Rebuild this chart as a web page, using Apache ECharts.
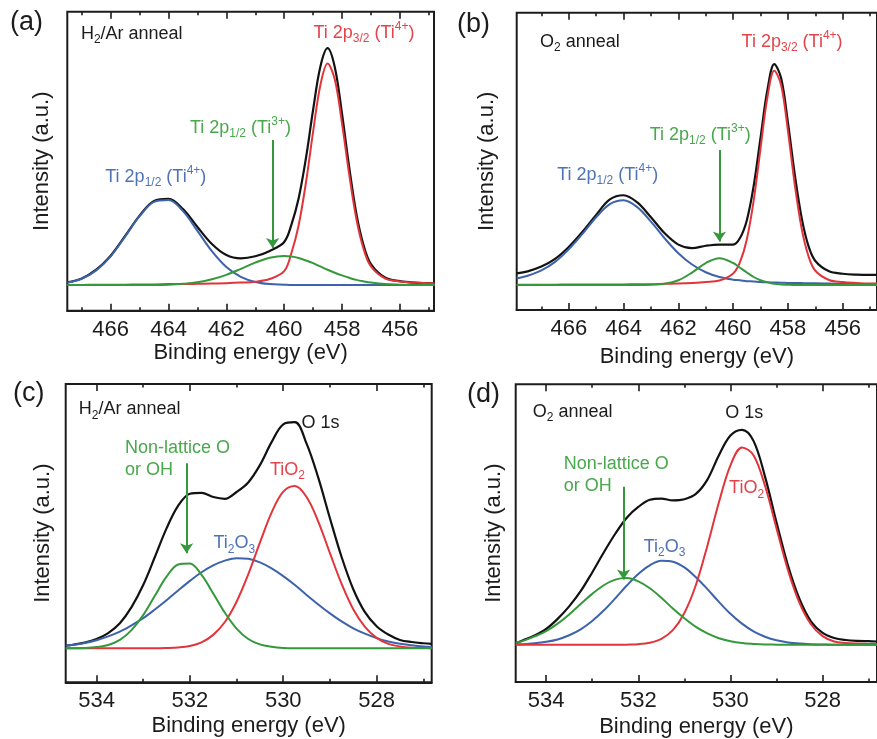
<!DOCTYPE html>
<html>
<head>
<meta charset="utf-8">
<script src="https://cdn.jsdelivr.net/npm/echarts@6/dist/echarts.min.js"></script>
<style>
  html, body { margin: 0; padding: 0; background: #ffffff; }
  #chart { width: 877px; height: 739px; }
</style>
</head>
<body>
<div id="chart"></div>
<script>
// ---------- Ti 2p spectra (binding energy in eV, intensity in arbitrary units) ----------
const tiEnergyA = [467.5, 467, 466.5, 466, 465.5, 465, 464.5, 464, 463.5, 463, 462.5, 462, 461.5, 461, 460.5, 460,
  459.75, 459.5, 459.25, 459, 458.75, 458.5, 458.25, 458, 457.75, 457.5, 457.25, 457, 456.5, 456, 455.5, 455, 454.8];
const tiTotalA = [9.5, 10.8, 13.7, 18.4, 25.0, 31.8, 36.7, 37.4, 34.0, 28.0, 22.3, 18.6, 17.5, 18.2, 20.0, 23.0,
  28.8, 37.6, 50.9, 67.2, 81.6, 87.8, 81.4, 65.8, 47.8, 32.2, 21.7, 15.6, 11.0, 9.9, 9.4, 9.2, 9.1];
const ti4Half1A = [9.4, 10.7, 13.5, 18.2, 24.8, 31.6, 36.4, 37.0, 33.3, 26.7, 19.9, 14.6, 11.3, 9.6, 8.9, 8.7,
  8.6, 8.6, 8.6, 8.6, 8.6, 8.6, 8.6, 8.6, 8.6, 8.6, 8.6, 8.6, 8.6, 8.6, 8.6, 8.6, 8.6];
const ti3Half1A = [8.6, 8.6, 8.6, 8.6, 8.6, 8.6, 8.6, 8.7, 9.0, 9.5, 10.5, 12.0, 14.0, 16.1, 17.7, 18.3,
  18.1, 17.6, 16.8, 15.9, 14.8, 13.7, 12.7, 11.8, 11.0, 10.3, 9.8, 9.4, 8.9, 8.7, 8.6, 8.6, 8.6];
const ti4Half3A = [8.6, 8.6, 8.7, 8.7, 8.7, 8.8, 8.8, 8.9, 8.9, 9.0, 9.1, 9.2, 9.4, 9.7, 10.6, 13.2,
  19.3, 28.6, 42.7, 59.9, 75.4, 82.7, 77.3, 62.6, 45.4, 30.5, 20.5, 14.8, 10.7, 9.8, 9.4, 9.2, 9.1];

const tiEnergyB = [467.9, 467.5, 467, 466.5, 466, 465.5, 465, 464.5, 464, 463.5, 463, 462.5, 462, 461.5, 461, 460.5, 460,
  459.75, 459.5, 459.25, 459, 458.75, 458.5, 458.25, 458, 457.75, 457.5, 457.25, 457, 456.5, 456, 455.5, 455, 454.75];
const tiTotalB = [12.3, 13.0, 14.6, 17.2, 21.2, 26.3, 32.0, 37.2, 38.6, 36.2, 31.2, 25.8, 22.0, 20.8, 21.6, 22.0, 22.0,
  24.2, 30.2, 41.8, 58.0, 74.0, 82.7, 78.0, 63.0, 45.5, 31.0, 21.5, 16.5, 13.0, 12.2, 11.9, 11.8, 11.8];
const ti4Half1B = [10.6, 11.5, 13.3, 16.2, 20.4, 25.6, 31.2, 35.6, 36.9, 34.6, 29.7, 24.1, 19.1, 15.3, 12.7, 11.1, 10.2,
  10.0, 9.7, 9.6, 9.4, 9.3, 9.25, 9.2, 9.1, 9.1, 9.05, 9.0, 9.0, 8.9, 8.8, 8.8, 8.7, 8.7];
const ti3Half1B = [8.4, 8.4, 8.4, 8.4, 8.4, 8.4, 8.4, 8.4, 8.4, 8.4, 8.5, 8.8, 10.0, 12.6, 15.8, 17.4, 15.8,
  14.2, 12.6, 11.1, 10.0, 9.3, 8.8, 8.6, 8.5, 8.4, 8.4, 8.4, 8.4, 8.4, 8.4, 8.4, 8.4, 8.4];
const ti4Half3B = [8.5, 8.5, 8.5, 8.5, 8.6, 8.6, 8.6, 8.6, 8.6, 8.7, 8.7, 8.8, 8.9, 9.1, 9.4, 9.9, 12.3,
  16.1, 23.8, 36.9, 54.4, 71.5, 80.5, 75.7, 60.2, 42.1, 27.4, 18.1, 13.2, 10.1, 9.4, 9.1, 8.9, 8.9];

// ---------- O 1s spectra ----------
const oEnergy = [534.66, 534.5, 534.25, 534, 533.75, 533.5, 533.25, 533, 532.75, 532.5, 532.25, 532, 531.75, 531.5,
  531.25, 531, 530.75, 530.5, 530.25, 530, 529.75, 529.5, 529.25, 529, 528.75, 528.5, 528.25, 528, 527.75, 527.5,
  527.25, 527, 526.82];

const oTotalC = [12.3, 12.6, 13.3, 14.5, 16.5, 19.8, 25.2, 32.6, 42.0, 51.6, 59.2, 63.2, 63.5, 62.1,
  61.5, 63.8, 67.0, 72.8, 80.5, 86.5, 87.2, 80.0, 68.6, 55.0, 42.0, 31.2, 23.5, 18.8, 16.0, 14.2,
  13.5, 13.1, 12.9];
const oHydroxylC = [11.4, 11.4, 11.5, 11.8, 12.5, 14.2, 17.5, 22.5, 29.0, 35.4, 39.5, 39.8, 36.0, 29.8,
  23.3, 18.0, 14.5, 12.7, 11.9, 11.5, 11.4, 11.4, 11.4, 11.4, 11.4, 11.4, 11.4, 11.4, 11.4, 11.4,
  11.4, 11.4, 11.4];
const oTi2O3C = [12.3, 12.6, 13.2, 14.1, 15.4, 17.0, 19.1, 21.5, 24.4, 27.5, 30.8, 34.0, 36.9, 39.2,
  40.8, 41.6, 41.4, 40.2, 38.2, 35.6, 32.6, 29.3, 26.1, 23.1, 20.4, 18.1, 16.3, 14.8, 13.7, 12.9,
  12.4, 12.0, 11.8];
const oTiO2C = [11.4, 11.4, 11.4, 11.4, 11.4, 11.4, 11.4, 11.4, 11.4, 11.5, 11.7, 12.2, 13.4, 15.9,
  20.2, 27.0, 36.2, 46.8, 56.9, 63.9, 65.8, 62.1, 53.9, 43.3, 33.0, 24.5, 18.6, 14.9, 12.9, 12.0,
  11.6, 11.5, 11.45];

const oTotalD = [13.0, 14.0, 15.6, 17.8, 21.2, 25.4, 30.5, 36.8, 43.5, 49.8, 55.2, 58.8, 61.2, 61.6,
  61.0, 61.4, 63.2, 68.0, 76.2, 82.8, 84.7, 81.0, 69.0, 53.6, 39.0, 27.8, 20.3, 16.5, 14.8, 14.1,
  13.8, 13.7, 13.6];
const oHydroxylD = [13.2, 13.8, 15.3, 17.1, 19.6, 22.7, 26.2, 29.6, 32.5, 34.4, 34.9, 33.8, 31.5, 28.3,
  24.7, 21.4, 18.5, 16.3, 14.7, 13.7, 13.1, 12.8, 12.6, 12.55, 12.5, 12.5, 12.5, 12.5, 12.5, 12.5,
  12.5, 12.5, 12.5];
const oTi2O3D = [12.65, 12.7, 13.0, 13.5, 14.3, 15.7, 17.7, 20.5, 24.0, 28.1, 32.4, 36.3, 39.2, 40.7,
  40.4, 38.5, 35.2, 31.2, 26.9, 22.9, 19.6, 17.0, 15.2, 14.0, 13.3, 12.9, 12.7, 12.6, 12.5, 12.5,
  12.5, 12.5, 12.5];
const oTiO2D = [12.5, 12.5, 12.5, 12.5, 12.5, 12.5, 12.5, 12.5, 12.5, 12.5, 12.55, 12.7, 13.2, 14.5,
  17.4, 23.2, 32.6, 45.8, 60.4, 72.8, 78.8, 76.2, 65.9, 51.6, 37.5, 26.5, 19.3, 15.4, 13.6, 13.1,
  12.9, 12.8, 12.8];

// ---------- axis ticks ----------
const tiMajorTicks = [466, 464, 462, 460, 458, 456];
const tiMinorTicks = [467, 465, 463, 461, 459, 457, 455];
const oMajorTicks = [534, 532, 530, 528];
const oMinorTicks = [533, 531, 529, 527];

// ---------- styling ----------
const FONT = '"Liberation Sans", Arial, Helvetica, sans-serif';
const INK = '#1c1c1c';
const LINE = { total: '#121212', blue: '#3d63ac', green: '#35983b', red: '#e2353b' };
const LABEL = { blue: '#4f73b8', green: '#48a84b', red: '#e2444a' };

function rich(color, lh) {
  return {
    m: { fontSize: 18, fontFamily: FONT, color: color, lineHeight: lh || 24 },
    s: { fontSize: 12, fontFamily: FONT, color: color, lineHeight: 12, verticalAlign: 'bottom' },
    p: { fontSize: 12, fontFamily: FONT, color: color, lineHeight: 12, verticalAlign: 'top' }
  };
}

function note(coord, text, color, align, lh) {
  return {
    coord: coord,
    symbol: 'circle',
    symbolSize: 1,
    itemStyle: { color: 'rgba(0,0,0,0)' },
    label: {
      show: true, position: 'inside', align: align || 'center', verticalAlign: 'middle',
      formatter: text, rich: rich(color, lh)
    }
  };
}

const TI_4_32 = '{m|Ti 2p}{s|3/2}{m| (Ti}{p|4+}{m|)}';
const TI_3_12 = '{m|Ti 2p}{s|1/2}{m| (Ti}{p|3+}{m|)}';
const TI_4_12 = '{m|Ti 2p}{s|1/2}{m| (Ti}{p|4+}{m|)}';
const H2AR = '{m|H}{s|2}{m|/Ar anneal}';
const O2 = '{m|O}{s|2}{m| anneal}';

const panels = [
  {
    letter: '(a)', letterPos: [10, 9.5],
    grid: { left: 67.3, top: 11.7, width: 366.7, height: 299 },
    min: 454.82, max: 467.5, major: tiMajorTicks, minor: tiMinorTicks, gapX: 31, gapY: 14,
    x: tiEnergyA, total: tiTotalA, blue: ti4Half1A, green: ti3Half1A, red: ti4Half3A,
    notes: [
      note([467.03, 92.5], H2AR, INK, 'left'),
      note([457.24, 92.9], TI_4_32, LABEL.red),
      note([461.51, 61.1], TI_3_12, LABEL.green),
      note([464.44, 44.7], TI_4_12, LABEL.blue)
    ],
    arrow: [[460.4, 57.1], [460.4, 21.0]]
  },
  {
    letter: '(b)', letterPos: [457, 11.5],
    grid: { left: 516.7, top: 12.7, width: 361.7, height: 297.3 },
    min: 454.75, max: 467.9, major: tiMajorTicks, minor: tiMinorTicks, gapX: 36, gapY: 18.5,
    x: tiEnergyB, total: tiTotalB, blue: ti4Half1B, green: ti3Half1B, red: ti4Half3B,
    notes: [
      note([467.05, 90.2], O2, INK, 'left'),
      note([457.85, 90.2], TI_4_32, LABEL.red),
      note([461.2, 58.9], TI_3_12, LABEL.green),
      note([464.58, 45.4], TI_4_12, LABEL.blue)
    ],
    arrow: [[460.5, 53.8], [460.5, 23.0]]
  },
  {
    letter: '(c)', letterPos: [13, 380],
    grid: { left: 65.7, top: 384, width: 366, height: 298.3 },
    min: 526.82, max: 534.66, major: oMajorTicks, minor: oMinorTicks, gapX: 33, gapY: 12,
    x: oEnergy, total: oTotalC, blue: oTi2O3C, green: oHydroxylC, red: oTiO2C,
    notes: [
      note([534.38, 91.5], H2AR, INK, 'left'),
      note([529.61, 86.8], '{m|O 1s}', INK, 'left'),
      note([533.39, 74.8], '{m|Non-lattice O}\n{m|or OH}', LABEL.green, 'left', 22),
      note([529.91, 71.2], '{m|TiO}{s|2}', LABEL.red),
      note([531.05, 46.6], '{m|Ti}{s|2}{m|O}{s|3}', LABEL.blue)
    ],
    arrow: [[532.07, 73.4], [532.07, 43.3]]
  },
  {
    letter: '(d)', letterPos: [467, 381.5],
    grid: { left: 515.7, top: 384.3, width: 367.8, height: 298 },
    min: 526.82, max: 534.66, major: oMajorTicks, minor: oMinorTicks, gapX: 34, gapY: 11,
    x: oEnergy, total: oTotalD, blue: oTi2O3D, green: oHydroxylD, red: oTiO2D,
    notes: [
      note([534.29, 90.8], O2, INK, 'left'),
      note([529.70, 90.3], '{m|O 1s}', INK),
      note([533.62, 69.4], '{m|Non-lattice O}\n{m|or OH}', LABEL.green, 'left', 22),
      note([529.65, 65.1], '{m|TiO}{s|2}', LABEL.red),
      note([531.43, 45.5], '{m|Ti}{s|2}{m|O}{s|3}', LABEL.blue)
    ],
    arrow: [[532.32, 65.6], [532.32, 34.4]]
  }
];

function pairs(xs, ys) {
  return xs.map(function (x, i) { return [x, ys[i]]; });
}

const option = {
  animation: false,
  backgroundColor: '#ffffff',
  textStyle: { fontFamily: FONT },
  grid: [], xAxis: [], yAxis: [], series: [], graphic: []
};

panels.forEach(function (p, gi) {
  option.grid.push(Object.assign({
    show: true, borderColor: INK, borderWidth: 2, backgroundColor: 'transparent', containLabel: false
  }, p.grid));

  const base = {
    type: 'value', gridIndex: gi, min: p.min, max: p.max, inverse: true,
    splitLine: { show: false }, axisPointer: { show: false }
  };
  const tickStyle = { color: INK, width: 1.6 };
  option.xAxis.push(
    Object.assign({}, base, {
      position: 'bottom',
      name: 'Binding energy (eV)', nameLocation: 'middle', nameGap: p.gapX,
      nameTextStyle: { fontSize: 22, fontFamily: FONT, color: INK },
      axisLine: { show: true, onZero: false, lineStyle: { color: INK, width: 2 } },
      axisTick: { show: true, inside: true, length: 7, customValues: p.major, lineStyle: tickStyle },
      axisLabel: { show: true, customValues: p.major, margin: 8, fontSize: 22, fontFamily: FONT, color: INK }
    }),
    Object.assign({}, base, {
      position: 'bottom',
      axisLine: { show: false, onZero: false },
      axisTick: { show: true, inside: true, length: 3.5, customValues: p.minor, lineStyle: tickStyle },
      axisLabel: { show: false }
    }),
    Object.assign({}, base, {
      position: 'top',
      axisLine: { show: false, onZero: false },
      axisTick: { show: true, inside: true, length: 7, customValues: p.major, lineStyle: tickStyle },
      axisLabel: { show: false }
    }),
    Object.assign({}, base, {
      position: 'top',
      axisLine: { show: false, onZero: false },
      axisTick: { show: true, inside: true, length: 3.5, customValues: p.minor, lineStyle: tickStyle },
      axisLabel: { show: false }
    })
  );

  option.yAxis.push({
    type: 'value', gridIndex: gi, min: 0, max: 100,
    name: 'Intensity (a.u.)', nameLocation: 'middle', nameGap: p.gapY,
    nameTextStyle: { fontSize: 22, fontFamily: FONT, color: INK },
    axisLine: { show: false }, axisTick: { show: false }, axisLabel: { show: false },
    splitLine: { show: false }, axisPointer: { show: false }
  });

  const common = {
    type: 'line', xAxisIndex: gi * 4, yAxisIndex: gi, smooth: 0.35,
    showSymbol: false, symbol: 'none', silent: true, clip: true
  };
  option.series.push(
    Object.assign({}, common, {
      name: 'Measured', data: pairs(p.x, p.total), z: 2,
      lineStyle: { color: LINE.total, width: 2.2 }, itemStyle: { color: LINE.total },
      markPoint: { silent: true, data: p.notes, z: 10 }
    }),
    Object.assign({}, common, {
      name: 'Blue component', data: pairs(p.x, p.blue), z: 3,
      lineStyle: { color: LINE.blue, width: 2 }, itemStyle: { color: LINE.blue }
    }),
    Object.assign({}, common, {
      name: 'Red component', data: pairs(p.x, p.red), z: 4,
      lineStyle: { color: LINE.red, width: 2 }, itemStyle: { color: LINE.red }
    }),
    Object.assign({}, common, {
      name: 'Green component', data: pairs(p.x, p.green), z: 5,
      lineStyle: { color: LINE.green, width: 2 }, itemStyle: { color: LINE.green },
      markLine: {
        silent: true, symbol: ['none', 'arrow'], symbolSize: 10,
        label: { show: false },
        lineStyle: { color: LINE.green, width: 2, type: 'solid' },
        data: [[{ coord: p.arrow[0] }, { coord: p.arrow[1] }]]
      }
    })
  );

  option.graphic.push({
    type: 'text', left: p.letterPos[0], top: p.letterPos[1], silent: true,
    style: { text: p.letter, fontSize: 27, fontFamily: FONT, fill: INK }
  });
});

const chart = echarts.init(document.getElementById('chart'), null, { renderer: 'canvas' });
chart.setOption(option);
</script>
</body>
</html>
